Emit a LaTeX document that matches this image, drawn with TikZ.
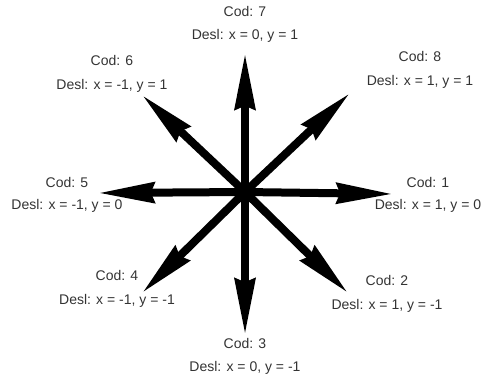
\documentclass[tikz,border=0pt]{standalone}
\usepackage{fontspec}
\setmainfont{Liberation Sans}
\usetikzlibrary{arrows.meta}

\begin{document}
\begin{tikzpicture}[x=0.75pt, y=-0.75pt, font=\fontsize{10.5}{12}\selectfont,
  dir/.style={-{Stealth[length=42pt, width=15pt, inset=2.5pt]}, line width=6pt},
  lab/.style={text=black!80, inner sep=1pt}]
  \useasboundingbox (0,0) rectangle (485,383);

  \coordinate (O) at (245,192);
  \coordinate (T1) at (393,194);
  \coordinate (T2) at (348,293);
  \coordinate (T3) at (245,335);
  \coordinate (T4) at (142,293);
  \coordinate (T5) at (98,193);
  \coordinate (T6) at (142,95);
  \coordinate (T7) at (245,53);
  \coordinate (T8) at (350,93);

  % the eight directions
  \draw[dir] (O) -- (T1);
  \draw[dir] (O) -- (T2);
  \draw[dir] (O) -- (T3);
  \draw[dir] (O) -- (T4);
  \draw[dir] (O) -- (T5);
  \draw[dir] (O) -- (T6);
  \draw[dir] (O) -- (T7);
  \draw[dir] (O) -- (T8);
  \fill (O) circle (6pt);

  % codes and displacements
  \node[lab] (c1) at (428,182) {Cod: 1};
  \node[lab] (d1) at (428,206) {Desl: x = 1, y = 0};
  \node[lab] (c2) at (387,280) {Cod: 2};
  \node[lab] (d2) at (387,306) {Desl: x = 1, y = -1};
  \node[lab] (c3) at (245,343) {Cod: 3};
  \node[lab] (d3) at (245,368) {Desl: x = 0, y = -1};
  \node[lab] (c4) at (117,275) {Cod: 4};
  \node[lab] (d4) at (117,301) {Desl: x = -1, y = -1};
  \node[lab] (c5) at (67,182) {Cod: 5};
  \node[lab] (d5) at (67,206) {Desl: x = -1, y = 0};
  \node[lab] (c6) at (112,60) {Cod: 6};
  \node[lab] (d6) at (112,86) {Desl: x = -1, y = 1};
  \node[lab] (c7) at (245,11) {Cod: 7};
  \node[lab] (d7) at (245,36) {Desl: x = 0, y = 1};
  \node[lab] (c8) at (420,56) {Cod: 8};
  \node[lab] (d8) at (420,82) {Desl: x = 1, y = 1};
\end{tikzpicture}
\end{document}
